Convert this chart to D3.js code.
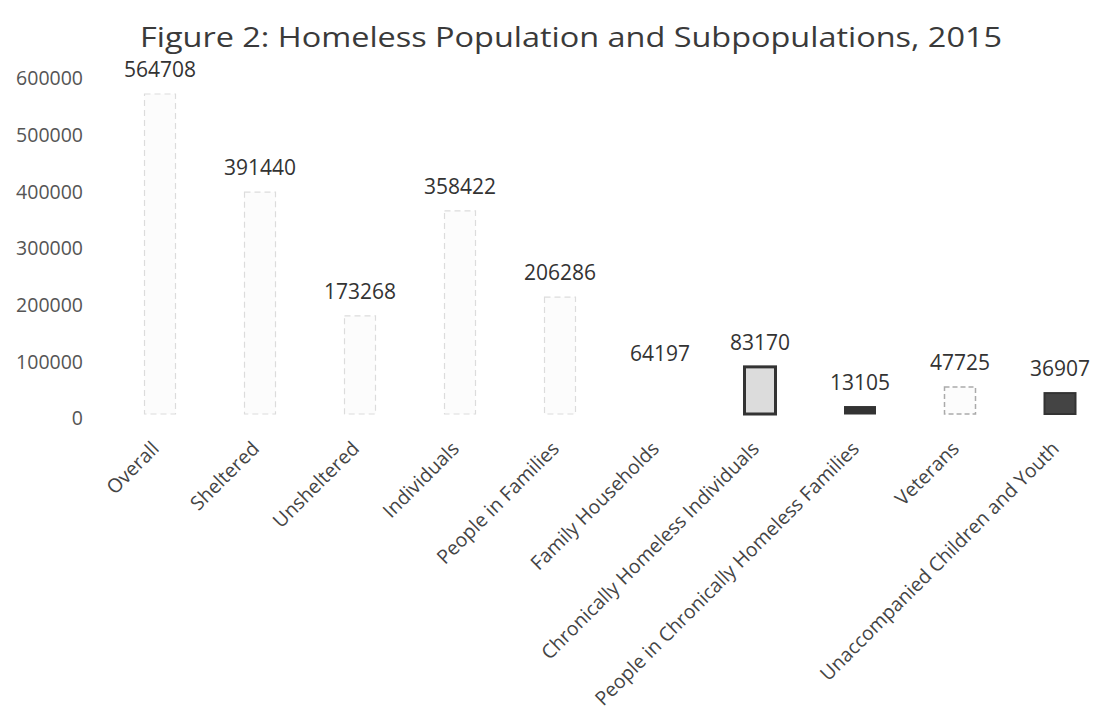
<!DOCTYPE html>
<html><head><meta charset="utf-8">
<script src="https://cdn.jsdelivr.net/npm/d3@7"></script>
<style>body{margin:0;background:#fff}svg{display:block}</style>
</head><body>
<svg id="chart" width="1097" height="719"></svg>
<script>
const categories = ["Overall","Sheltered","Unsheltered","Individuals","People in Families","Family Households","Chronically Homeless Individuals","People in Chronically Homeless Families","Veterans","Unaccompanied Children and Youth"];
const values = [564708,391440,173268,358422,206286,64197,83170,13105,47725,36907];
const yTicks = [0,100000,200000,300000,400000,500000,600000];
const title = "Figure 2: Homeless Population and Subpopulations, 2015";

const svg = d3.select("#chart");
const font = "'Open Sans', sans-serif";
const x = d3.scalePoint().domain(categories).range([160,1060]);
const y = d3.scaleLinear().domain([0,600000]).range([414,74]);
const bw = 31;

// bar styles (appearance of the scanned original)
const style = {
  "Chronically Homeless Individuals": {fill:"#dcdcdc", stroke:"#333", sw:3, dash:null},
  "People in Chronically Homeless Families": {fill:"#333", stroke:"#333", sw:1, dash:null},
  "Unaccompanied Children and Youth": {fill:"#444", stroke:"#333", sw:2, dash:null},
  "Veterans": {fill:"#fcfcfc", stroke:"#aaa", sw:1.5, dash:"5,3"},
  "Family Households": {fill:"#fff", stroke:"none", sw:0, dash:null}
};
const defStyle = {fill:"#fcfcfc", stroke:"#dcdcdc", sw:1.2, dash:"6,4"};

svg.append("text").attr("x",571).attr("y",47).attr("text-anchor","middle")
  .attr("font-family",font).attr("font-size",28).attr("fill","#3a3a3a")
  .attr("textLength",862).attr("lengthAdjust","spacingAndGlyphs").text(title);

// y axis labels
const yAxis = d3.axisLeft(y).tickValues(yTicks).tickFormat(d3.format("d")).tickSize(0).tickPadding(0);
const ga = svg.append("g").attr("transform","translate(83,0)").call(yAxis);
ga.select(".domain").remove();
ga.selectAll("text").attr("font-family",font).attr("font-size",19.5).attr("fill","#555").attr("dy","0.55em");

// bars
svg.append("g").selectAll("rect").data(categories).join("rect")
  .attr("x",d=>x(d)-bw/2)
  .attr("y",(d,i)=>y(values[i]))
  .attr("width",bw)
  .attr("height",(d,i)=>y(0)-y(values[i]))
  .attr("fill",d=>(style[d]||defStyle).fill)
  .attr("stroke",d=>(style[d]||defStyle).stroke)
  .attr("stroke-width",d=>(style[d]||defStyle).sw)
  .attr("stroke-dasharray",d=>(style[d]||defStyle).dash);

// value labels
svg.append("g").selectAll("text").data(categories).join("text")
  .attr("x",d=>x(d))
  .attr("y",(d,i)=>y(values[i])-17)
  .attr("text-anchor","middle")
  .attr("font-family",font).attr("font-size",21).attr("fill","#333")
  .text((d,i)=>values[i]);

// x axis labels
const xAxis = d3.axisBottom(x).tickSize(0).tickPadding(0);
const gx = svg.append("g").attr("transform","translate(0,"+y(0)+")").call(xAxis);
gx.select(".domain").remove();
gx.selectAll("text")
  .attr("font-family",font).attr("font-size",19.5).attr("fill","#444")
  .attr("text-anchor","end")
  .attr("transform","translate(-5,31) rotate(-45)")
  .attr("dy","0.35em").attr("y",0);
</script>
</body></html>
